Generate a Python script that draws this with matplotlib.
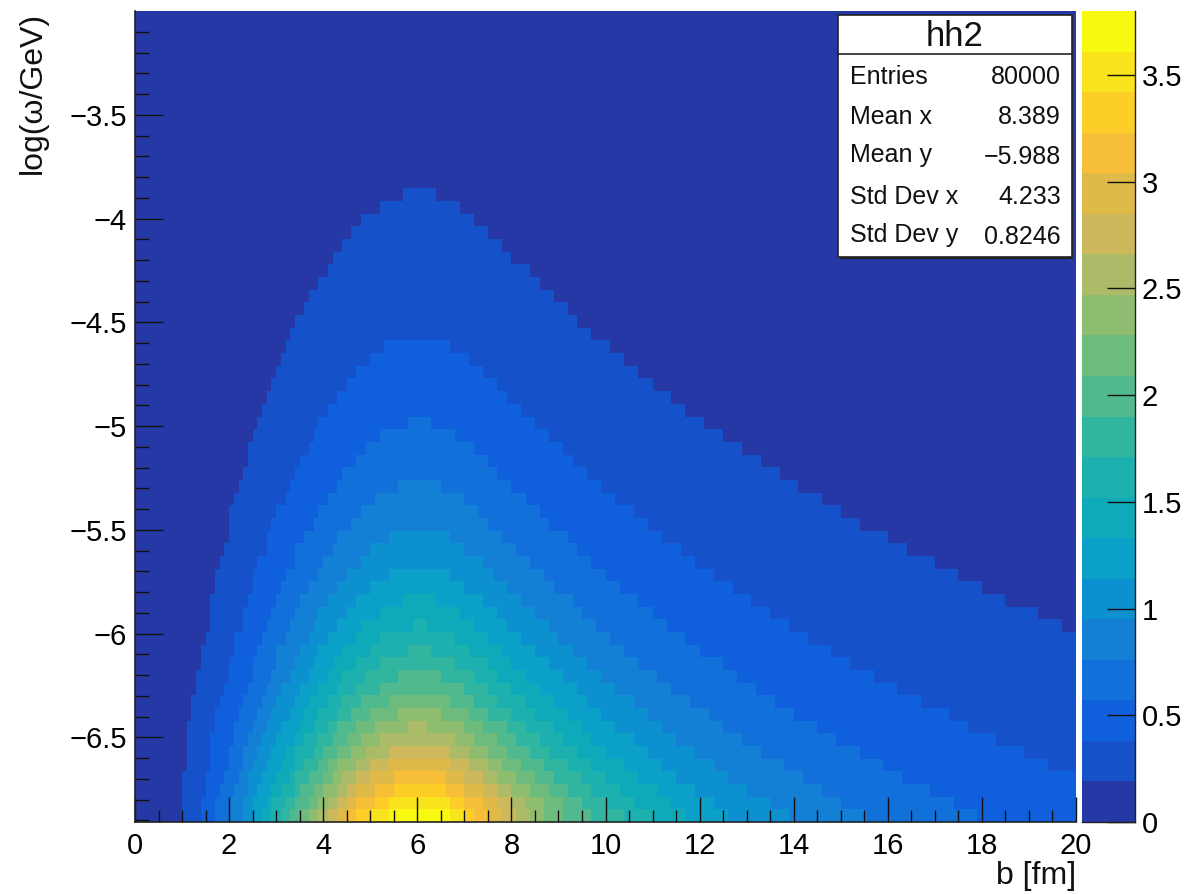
import numpy as np
import matplotlib
matplotlib.use("Agg")
import matplotlib.pyplot as plt
from matplotlib.colors import ListedColormap, BoundaryNorm
from matplotlib.patches import Rectangle
from matplotlib.ticker import MultipleLocator, FixedLocator, FuncFormatter

plt.rcParams["font.family"] = ["Liberation Sans", "DejaVu Sans"]

# histogram binning
b_edges = np.linspace(0, 20, 201)
y_edges = np.linspace(-6.908, -3.0, 65)

# colour levels, read from the palette on the right
level_step = 0.19
level_colors = ["#2638A6", "#1551C9", "#1060DD", "#1170D9", "#1480D5",
                "#0D90D0", "#0AA0C8", "#0FAAB9", "#1CB0AE", "#30B5A0",
                "#50B98E", "#6EBC7D", "#8FBD70", "#ACBB68", "#CDB95B",
                "#E0BA48", "#F6BF37", "#FDCE28", "#F9E31C", "#F8F811"]

# b where each level starts and stops, one value per y bin from the bottom up
left1 = [1.0, 1.0, 1.0, 1.0, 1.1, 1.1, 1.1, 1.1, 1.2, 1.2, 1.3, 1.3, 1.4, 1.4, 1.5, 1.6, 1.6, 1.6, 1.7, 1.7,
         1.8, 1.9, 2.0, 2.0, 2.0, 2.1, 2.2, 2.3, 2.4, 2.4, 2.5, 2.6, 2.7, 2.8, 2.9, 3.0, 3.1, 3.2, 3.3, 3.4,
         3.6, 3.7, 3.9, 4.1, 4.2, 4.4, 4.6, 4.8, 5.2, 5.7]
right1 = [20, 20, 20, 20, 20, 20, 20, 20, 20, 20, 20, 20, 20, 20, 20, 19.7, 19.2, 18.5, 18.0, 17.5,
          17.0, 16.4, 16.0, 15.4, 15.0, 14.6, 14.1, 13.7, 13.3, 12.9, 12.5, 12.1, 11.7, 11.4, 11.0, 10.7, 10.4, 10.1, 9.7, 9.4,
          9.2, 8.9, 8.6, 8.4, 8.0, 7.8, 7.5, 7.2, 6.9, 6.4]
left2 = [1.4, 1.4, 1.5, 1.5, 1.6, 1.6, 1.6, 1.7, 1.7, 1.8, 1.9, 2.0, 2.0, 2.1, 2.1, 2.3, 2.3, 2.4, 2.5, 2.5,
         2.6, 2.8, 2.8, 2.9, 3.0, 3.2, 3.3, 3.4, 3.5, 3.7, 3.8, 3.9, 4.1, 4.3, 4.5, 4.7, 5.0, 5.3]
right2 = [20, 20, 20, 20, 19.4, 18.9, 18.3, 17.7, 17.3, 16.7, 16.2, 15.7, 15.2, 14.8, 14.3, 13.9, 13.5, 13.1, 12.7, 12.3,
          11.9, 11.6, 11.2, 10.9, 10.6, 10.2, 9.9, 9.6, 9.3, 9.1, 8.8, 8.5, 8.2, 7.9, 7.7, 7.4, 7.1, 6.7]
left3 = [1.7, 1.7, 1.8, 1.9, 2.0, 2.0, 2.1, 2.1, 2.2, 2.3, 2.4, 2.5, 2.5, 2.6, 2.7, 2.8, 2.9, 3.0, 3.1, 3.2,
         3.4, 3.4, 3.6, 3.8, 3.9, 4.1, 4.3, 4.4, 4.7, 4.9, 5.2, 5.8]
right3 = [17.9, 17.4, 16.9, 16.3, 15.9, 15.4, 14.9, 14.5, 14.0, 13.6, 13.2, 12.8, 12.5, 12.0, 11.7, 11.3, 11.0, 10.7, 10.3, 10.0,
          9.7, 9.4, 9.2, 8.8, 8.6, 8.3, 8.0, 7.7, 7.5, 7.2, 6.8, 6.3]
left4 = [2.0, 2.0, 2.1, 2.2, 2.3, 2.3, 2.4, 2.5, 2.6, 2.7, 2.8, 2.9, 3.0, 3.0, 3.2, 3.3, 3.4, 3.5, 3.7, 3.9,
         4.0, 4.2, 4.3, 4.6, 4.8, 5.1, 5.6]
right4 = [15.5, 15.0, 14.6, 14.2, 13.8, 13.3, 12.9, 12.5, 12.2, 11.8, 11.4, 11.1, 10.7, 10.4, 10.1, 9.8, 9.5, 9.3, 8.9, 8.7,
          8.4, 8.1, 7.8, 7.5, 7.3, 7.0, 6.5]
left5 = [2.3, 2.3, 2.4, 2.4, 2.5, 2.6, 2.7, 2.8, 2.9, 3.0, 3.1, 3.3, 3.4, 3.5, 3.7, 3.8, 3.9, 4.1, 4.3, 4.5, 4.8, 5.0, 5.4]
right5 = [13.9, 13.5, 13.0, 12.6, 12.3, 11.9, 11.5, 11.2, 10.9, 10.6, 10.2, 9.9, 9.6, 9.3, 9.0, 8.8, 8.5, 8.2, 7.9, 7.6, 7.4, 7.0, 6.7]
left6 = [2.5, 2.5, 2.6, 2.7, 2.8, 2.9, 3.0, 3.1, 3.3, 3.4, 3.5, 3.7, 3.8, 3.9, 4.1, 4.3, 4.5, 4.7, 5.0, 5.4]
right6 = [12.6, 12.3, 11.9, 11.5, 11.2, 10.9, 10.6, 10.2, 9.9, 9.6, 9.4, 9.1, 8.8, 8.5, 8.2, 7.9, 7.7, 7.4, 7.0, 6.7]
left7 = [2.7, 2.8, 2.9, 3.0, 3.1, 3.2, 3.4, 3.5, 3.6, 3.7, 3.9, 4.1, 4.2, 4.4, 4.7, 4.8, 5.2, 5.7]
right7 = [11.7, 11.4, 11.1, 10.7, 10.4, 10.0, 9.7, 9.5, 9.2, 8.9, 8.6, 8.3, 8.0, 7.8, 7.5, 7.2, 6.9, 6.4]
left8 = [2.9, 2.9, 3.1, 3.3, 3.4, 3.4, 3.6, 3.8, 3.9, 4.1, 4.3, 4.4, 4.7, 5.0, 5.2, 5.9]
right8 = [11.0, 10.6, 10.3, 10.0, 9.7, 9.4, 9.1, 8.9, 8.5, 8.3, 8.0, 7.7, 7.5, 7.1, 6.8, 6.2]
left9 = [3.1, 3.2, 3.4, 3.4, 3.6, 3.8, 3.9, 4.1, 4.3, 4.4, 4.7, 4.9, 5.2, 5.8]
right9 = [10.4, 10.0, 9.7, 9.5, 9.2, 8.8, 8.6, 8.3, 8.0, 7.7, 7.5, 7.2, 6.8, 6.3]
left10 = [3.3, 3.4, 3.5, 3.7, 3.9, 4.0, 4.2, 4.3, 4.6, 4.8, 5.2, 5.6]
right10 = [9.7, 9.5, 9.2, 8.9, 8.7, 8.4, 8.1, 7.9, 7.5, 7.2, 7.0, 6.5]
left11 = [3.5, 3.7, 3.8, 4.0, 4.1, 4.3, 4.5, 4.7, 5.0, 5.4]
right11 = [9.1, 9.1, 8.8, 8.5, 8.2, 7.9, 7.7, 7.4, 7.1, 6.7]
left12 = [3.7, 3.9, 4.0, 4.2, 4.3, 4.6, 4.8, 5.1, 5.6]
right12 = [8.7, 8.7, 8.4, 8.1, 7.8, 7.5, 7.2, 7.0, 6.5]
left13 = [3.9, 4.1, 4.3, 4.4, 4.7, 4.9, 5.2, 5.8]
right13 = [8.4, 8.3, 8.0, 7.7, 7.5, 7.1, 6.8, 6.2]
left14 = [4.1, 4.3, 4.5, 4.7, 5.0, 5.4]
right14 = [8.1, 8.0, 7.7, 7.4, 7.1, 6.7]
left15 = [4.3, 4.5, 4.7, 5.0, 5.4]
right15 = [7.8, 7.7, 7.4, 7.0, 6.7]
left16 = [4.5, 4.7, 5.1, 5.5]
right16 = [7.5, 7.4, 7.0, 6.6]
left17 = [4.7, 5.1, 5.5]
right17 = [7.2, 7.0, 6.6]
left18 = [5.0, 5.4]
right18 = [7.0, 6.7]
left19 = [5.4]
right19 = [6.7]

y_major = [-6.5, -6.0, -5.5, -5.0, -4.5, -4.0, -3.5]
y_minor = np.arange(-6.9, -3.05, 0.1)
z_major = [0, 0.5, 1, 1.5, 2, 2.5, 3, 3.5]

stat_names = ["Entries", "Mean x", "Mean y", "Std Dev x", "Std Dev y"]
stat_values = ["80000", "8.389", "\u22125.988", "4.233", "0.8246"]

W, H = 1192, 894
TICK_SIZE = 21


def fx(px):
    return px / W


def fy(py):
    return 1 - py / H


def build_matrix():
    bands = [(left1, right1), (left2, right2), (left3, right3), (left4, right4),
             (left5, right5), (left6, right6), (left7, right7), (left8, right8),
             (left9, right9), (left10, right10), (left11, right11), (left12, right12),
             (left13, right13), (left14, right14), (left15, right15), (left16, right16),
             (left17, right17), (left18, right18), (left19, right19)]
    centres = 0.5 * (b_edges[:-1] + b_edges[1:])
    z = np.full((len(y_edges) - 1, len(centres)), 0.5 * level_step)
    for level, (left, right) in enumerate(bands, start=1):
        for row, (lo, hi) in enumerate(zip(left, right)):
            mask = (centres >= lo) & (centres < hi)
            z[row, mask] = (level + 0.5) * level_step
    return z


def axis_number(v, pos):
    s = f"{v:g}"
    return s.replace("-", "\u2212")


fig = plt.figure(figsize=(W / 100, H / 100), dpi=100)
ax = fig.add_axes([fx(135), fy(822), fx(1076) - fx(135), fy(11) - fy(822)])
cax = fig.add_axes([fx(1082), fy(822), fx(1135) - fx(1082), fy(11) - fy(822)])

bounds = np.arange(len(level_colors) + 1) * level_step
cmap = ListedColormap(level_colors)
norm = BoundaryNorm(bounds, cmap.N)

ax.pcolormesh(b_edges, y_edges, build_matrix(), cmap=cmap, norm=norm, rasterized=True)
ax.set_xlim(0, 20)
ax.set_ylim(-6.908, -3.0)

for side in ["top", "right"]:
    ax.spines[side].set_visible(False)
for side in ["left", "bottom"]:
    ax.spines[side].set_color("#222222")
    ax.spines[side].set_linewidth(1.2)

ax.xaxis.set_major_locator(MultipleLocator(2))
ax.xaxis.set_minor_locator(MultipleLocator(0.5))
ax.yaxis.set_major_locator(FixedLocator(y_major))
ax.yaxis.set_minor_locator(FixedLocator(y_minor))
ax.xaxis.set_major_formatter(FuncFormatter(axis_number))
ax.yaxis.set_major_formatter(FuncFormatter(axis_number))
ax.tick_params(axis="x", which="major", direction="in", length=18, width=1, color="#111111", labelsize=TICK_SIZE, pad=7)
ax.tick_params(axis="x", which="minor", direction="in", length=9, width=1, color="#111111")
ax.tick_params(axis="y", which="major", direction="in", length=20, width=1, color="#111111", labelsize=TICK_SIZE, pad=6)
ax.tick_params(axis="y", which="minor", direction="in", length=10, width=1, color="#111111")

fig.text(fx(1076), fy(876), "b [fm]", ha="right", va="center", fontsize=23, color="#111111")
fig.text(fx(33), fy(12), "log(\u03c9/GeV)", ha="center", va="top", rotation=90, fontsize=23, color="#111111")

# palette
cax.pcolormesh([0, 1], bounds, (bounds[:-1] + 0.5 * level_step).reshape(-1, 1), cmap=cmap, norm=norm)
cax.set_xlim(0, 1)
cax.set_ylim(0, bounds[-1])
cax.set_xticks([])
cax.yaxis.tick_right()
cax.yaxis.set_major_locator(FixedLocator(z_major))
cax.yaxis.set_major_formatter(FuncFormatter(axis_number))
cax.tick_params(axis="y", direction="in", length=20, width=1, color="#111111", labelsize=TICK_SIZE, pad=5)
for side in ["top", "left"]:
    cax.spines[side].set_visible(False)
for side in ["right", "bottom"]:
    cax.spines[side].set_color("#222222")
    cax.spines[side].set_linewidth(1.0)

# stats box
fig.patches.append(Rectangle((fx(840), fy(259)), fx(1073) - fx(840), fy(17) - fy(259),
                             transform=fig.transFigure, facecolor="#222222", edgecolor="none", zorder=5))
fig.patches.append(Rectangle((fx(838), fy(257)), fx(1072) - fx(838), fy(15) - fy(257),
                             transform=fig.transFigure, facecolor="white", edgecolor="#222222",
                             linewidth=1.2, zorder=6))
fig.add_artist(plt.Line2D([fx(838), fx(1072)], [fy(54), fy(54)], color="#222222", linewidth=1.2, zorder=7))
fig.text(fx(955), fy(36), "hh2", ha="center", va="center", fontsize=25, color="#111111", zorder=8)
name_y = [77, 117, 155, 197, 235]
value_y = [77, 117, 157, 197, 237]
for name, value, py, vy in zip(stat_names, stat_values, name_y, value_y):
    fig.text(fx(850), fy(py), name, ha="left", va="center", fontsize=18, color="#111111", zorder=8)
    fig.text(fx(1061), fy(vy), value, ha="right", va="center", fontsize=18, color="#111111", zorder=8)

fig.savefig("out.png", dpi=100)
